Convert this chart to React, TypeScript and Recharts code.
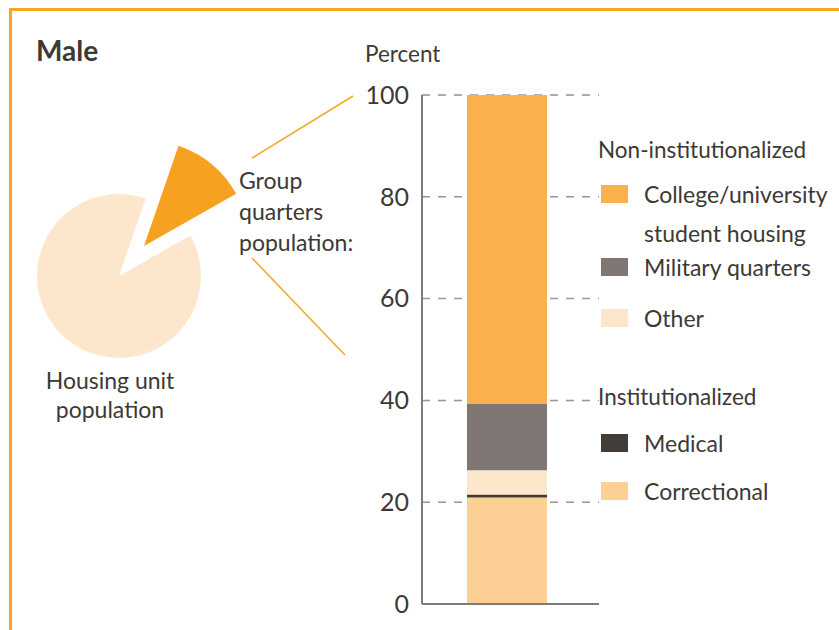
import { BarChart, Bar, XAxis, YAxis, CartesianGrid, PieChart, Pie, Cell } from 'recharts'

// pie: share of male population
const pieLabels = ['Housing unit population', 'Group quarters population']
const pieValues = [88.5, 11.5]

// stacked bar segments, bottom to top (percent of group quarters)
const segmentNames = ['Correctional', 'Medical', 'Other', 'Military quarters', 'College/university student housing']
const segmentValues = [20.9, 0.6, 4.8, 13.0, 60.7]
const segmentColors = ['#FCD095', '#433D39', '#FDE7CC', '#807673', '#F9B04D']

const yTicks = [0, 20, 40, 60, 80, 100]

const barRow: Record<string, string | number> = { name: 'Male' }
segmentNames.forEach((n, i) => {
  barRow[n] = segmentValues[i]
})
const barData = [barRow]

const pieData = pieLabels.map((name, i) => ({ name, value: pieValues[i] }))

const FONT = 'Lato, "Open Sans", sans-serif'
const TEXT = '#3D3935'
const ORANGE = '#F5A623'

const legendGroups = [
  { title: 'Non-institutionalized', top: 135, items: [4, 3, 2] },
  { title: 'Institutionalized', top: 382, items: [1, 0] },
]
const legendRows: Record<number, { top: number; label: string[] }> = {
  4: { top: 185, label: ['College/university', 'student housing'] },
  3: { top: 258, label: ['Military quarters'] },
  2: { top: 309, label: ['Other'] },
  1: { top: 434, label: ['Medical'] },
  0: { top: 482, label: ['Correctional'] },
}

export default function App() {
  return (
    <div style={{ position: 'absolute', left: 0, top: 0, width: 839, height: 630, overflow: 'hidden', background: '#fff', fontFamily: FONT, color: TEXT }}>
      {/* frame */}
      <div style={{ position: 'absolute', left: 9, top: 7.5, width: 840, height: 640, borderLeft: `3px solid ${ORANGE}`, borderTop: `3px solid ${ORANGE}` }} />

      <div style={{ position: 'absolute', left: 36, top: 33, fontSize: 28, fontWeight: 700, lineHeight: '34px' }}>Male</div>

      <div style={{ position: 'absolute', left: 0, top: 0 }}>
        <PieChart width={839} height={630} margin={{ top: 0, right: 0, bottom: 0, left: 0 }}>
          <Pie data={pieData} dataKey="value" cx={119} cy={276} outerRadius={82} startAngle={71} endAngle={431} stroke="none" isAnimationActive={false}>
            <Cell fill="#FDE7CC" />
            <Cell fill="none" />
          </Pie>
          <Pie data={pieData} dataKey="value" cx={144} cy={246} outerRadius={106} startAngle={71} endAngle={431} stroke="none" isAnimationActive={false}>
            <Cell fill="none" />
            <Cell fill="#F7A120" />
          </Pie>
        </PieChart>
      </div>

      {/* leader lines */}
      <svg width={839} height={630} style={{ position: 'absolute', left: 0, top: 0 }}>
        <line x1={252} y1={158} x2={353} y2={96} stroke={ORANGE} strokeWidth={1.5} />
        <line x1={252} y1={258} x2={345} y2={355} stroke={ORANGE} strokeWidth={1.5} />
      </svg>

      <div style={{ position: 'absolute', left: 239, top: 165, fontSize: 23, lineHeight: '31px' }}>
        Group<br />quarters<br />population:
      </div>
      <div style={{ position: 'absolute', left: 20, top: 366, width: 180, textAlign: 'center', fontSize: 23, lineHeight: '29px' }}>
        Housing unit<br />population
      </div>

      <div style={{ position: 'absolute', left: 365, top: 40, fontSize: 22.5, lineHeight: '28px' }}>Percent</div>

      <div style={{ position: 'absolute', left: 0, top: 0 }}>
        <BarChart width={839} height={630} data={barData} margin={{ top: 95, right: 240, bottom: 0, left: 362 }}>
          <CartesianGrid vertical={false} stroke="#9A9492" strokeWidth={1.5} strokeDasharray="8 8" />
          <XAxis dataKey="name" tick={false} tickLine={false} height={26} padding={{ left: 0, right: 7 }} axisLine={{ stroke: '#807A78', strokeWidth: 2 }} />
          <YAxis
            domain={[0, 100]}
            ticks={yTicks}
            width={60}
            tickLine={false}
            tickMargin={7}
            axisLine={{ stroke: '#807A78', strokeWidth: 2 }}
            tick={{ fill: TEXT, fontSize: 25, fontFamily: FONT }}
          />
          {segmentNames.map((n, i) => (
            <Bar key={n} dataKey={n} stackId="gq" fill={segmentColors[i]} barSize={80} isAnimationActive={false} />
          ))}
        </BarChart>
      </div>

      {/* legend */}
      {legendGroups.map((g) => (
        <div key={g.title}>
          <div style={{ position: 'absolute', left: 598, top: g.top, fontSize: 22.5, lineHeight: '30px', whiteSpace: 'nowrap' }}>{g.title}</div>
          {g.items.map((idx) => (
            <div key={idx}>
              <div style={{ position: 'absolute', left: 601, top: legendRows[idx].top, width: 27, height: 18, background: segmentColors[idx] }} />
              <div style={{ position: 'absolute', left: 644, top: legendRows[idx].top - 10, fontSize: 23, lineHeight: '39px', whiteSpace: 'nowrap' }}>
                {legendRows[idx].label.map((l) => (
                  <div key={l}>{l}</div>
                ))}
              </div>
            </div>
          ))}
        </div>
      ))}
    </div>
  )
}
